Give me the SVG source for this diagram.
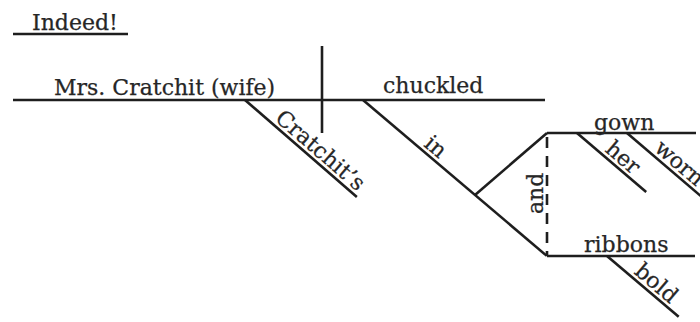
<svg xmlns="http://www.w3.org/2000/svg" width="700" height="322" viewBox="0 0 700 322">
  <style>
    .ln { stroke: #1e1e1e; stroke-width: 2.6; fill: none; stroke-linecap: butt; }
    .dash { stroke: #1e1e1e; stroke-width: 2.6; fill: none; stroke-dasharray: 11 8; }
    .w { font-family: "DejaVu Serif", "Liberation Serif", serif; font-size: 22px; fill: #262626; stroke: #262626; stroke-width: 0.25; }
  </style>
  <rect width="700" height="322" fill="#ffffff"/>

  <!-- independent element -->
  <g id="indeed">
    <line class="ln" x1="13" y1="34" x2="128" y2="34"/>
    <text class="w" x="32" y="30">Indeed!</text>
  </g>

  <!-- subject with appositive -->
  <g id="subject">
    <text class="w" x="54" y="95">Mrs. Cratchit (wife)</text>
  </g>

  <!-- verb -->
  <g id="verb">
    <text class="w" x="383" y="93">chuckled</text>
  </g>

  <!-- possessive modifier of the subject -->
  <g id="cratchits" transform="translate(245,100) rotate(40.9)">
    <line class="ln" x1="0" y1="0" x2="148" y2="0"/>
    <text class="w" x="35" y="-4">Cratchit’s</text>
  </g>

  <!-- preposition -->
  <g id="in" transform="translate(363,100) rotate(40.3)">
    <line class="ln" x1="0" y1="0" x2="241" y2="0"/>
    <text class="w" x="75" y="-4">in</text>
  </g>

  <!-- first object of the preposition -->
  <g id="gown">
    <line class="ln" x1="547" y1="133" x2="696" y2="133"/>
    <text class="w" x="594" y="130">gown</text>
  </g>
  <g id="her" transform="translate(577,133) rotate(40.5)">
    <line class="ln" x1="0" y1="0" x2="91" y2="0"/>
    <text class="w" x="32" y="-4">her</text>
  </g>
  <g id="worn" transform="translate(627,133) rotate(40.5)">
    <line class="ln" x1="0" y1="0" x2="120" y2="0"/>
    <text class="w" x="31" y="-4">worn</text>
  </g>

  <!-- second object of the preposition -->
  <g id="ribbons">
    <line class="ln" x1="547" y1="256" x2="695" y2="256"/>
    <text class="w" x="584" y="252">ribbons</text>
  </g>
  <g id="bold" transform="translate(607,256) rotate(40.3)">
    <line class="ln" x1="0" y1="0" x2="94" y2="0"/>
    <text class="w" x="31" y="-4">bold</text>
  </g>

  <!-- conjunction -->
  <g id="and">
    <text class="w" transform="translate(543,214) rotate(-90)">and</text>
  </g>

  <!-- base line, divider, fork and conjunction dashes -->
  <g id="connectors">
    <line class="ln" x1="13" y1="100" x2="545" y2="100"/>
    <line class="ln" x1="322" y1="46" x2="322" y2="133"/>
    <line class="ln" x1="475" y1="195" x2="547" y2="133"/>
    <line class="dash" x1="547" y1="137" x2="547" y2="256"/>
  </g>
</svg>
